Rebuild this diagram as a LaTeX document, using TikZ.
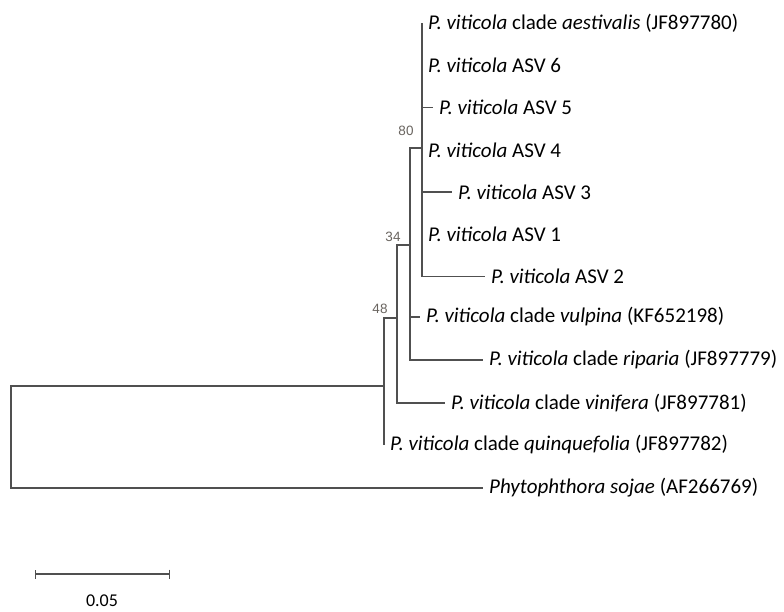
\documentclass[tikz,border=0pt]{standalone}
\usepackage{fontspec}
\setmainfont{Carlito}
\newfontfamily\bootfont{Liberation Sans}
\usetikzlibrary{arrows.meta}
\definecolor{branch}{RGB}{80,80,80}
\definecolor{bootgray}{RGB}{105,100,95}

\begin{document}
\begin{tikzpicture}[x=1pt,y=-1pt,
	br/.style={draw=branch,line width=1.4pt},
	leaf/.style={anchor=west,inner xsep=6pt,inner ysep=0pt,font=\fontsize{21}{23}\selectfont},
	boot/.style={text=bootgray,inner sep=0pt,font=\bootfont\fontsize{13.5}{15}\selectfont}]
\useasboundingbox (0,0) rectangle (784,612);
\coordinate (root) at (11,437);
\coordinate (na) at (384,386);
\coordinate (nb) at (397,318);
\coordinate (nc) at (410,245);
\coordinate (nd) at (422,148);
\foreach\i/\tx/\nm/\lb in {
	0/422/aes/{\textit{P. viticola} clade \textit{aestivalis} (JF897780)},
	1/422/asv6/{\textit{P. viticola} ASV 6},
	2/433/asv5/{\textit{P. viticola} ASV 5},
	3/422/asv4/{\textit{P. viticola} ASV 4},
	4/452/asv3/{\textit{P. viticola} ASV 3},
	5/422/asv1/{\textit{P. viticola} ASV 1},
	6/485/asv2/{\textit{P. viticola} ASV 2}}{
	\node[leaf] (\nm) at (\tx,{23+42.27*\i}) {\lb};
	\draw[br] (nd) |- (\nm.west);
}
\node[leaf] (vul) at (420,317) {\textit{P. viticola} clade \textit{vulpina} (KF652198)};
\node[leaf] (rip) at (483,360) {\textit{P. viticola} clade \textit{riparia} (JF897779)};
\node[leaf] (vin) at (445,403) {\textit{P. viticola} clade \textit{vinifera} (JF897781)};
\node[leaf] (qui) at (384,445) {\textit{P. viticola} clade \textit{quinquefolia} (JF897782)};
\node[leaf] (soj) at (483,488) {\textit{Phytophthora sojae} (AF266769)};
\draw[br] (nc) |- (nd);
\draw[br] (nc) |- (vul.west);
\draw[br] (nc) |- (rip.west);
\draw[br] (nb) |- (nc);
\draw[br] (nb) |- (vin.west);
\draw[br] (na) |- (nb);
\draw[br] (na) |- (qui.west);
\draw[br] (root) |- (na);
\draw[br] (root) |- (soj.west);
\node[boot] (bs80) at (406,131) {80};
\node[boot] (bs34) at (393,237) {34};
\node[boot] (bs48) at (380,309) {48};
\coordinate (sl) at (35,574);
\coordinate (sr) at (170,574);
\draw[br,{Bar[width=9pt]}-{Bar[width=9pt]}] (sl) -- (sr);
\node[font=\fontsize{18}{20}\selectfont] (scl) at (102,601) {0.05};
\end{tikzpicture}
\end{document}
